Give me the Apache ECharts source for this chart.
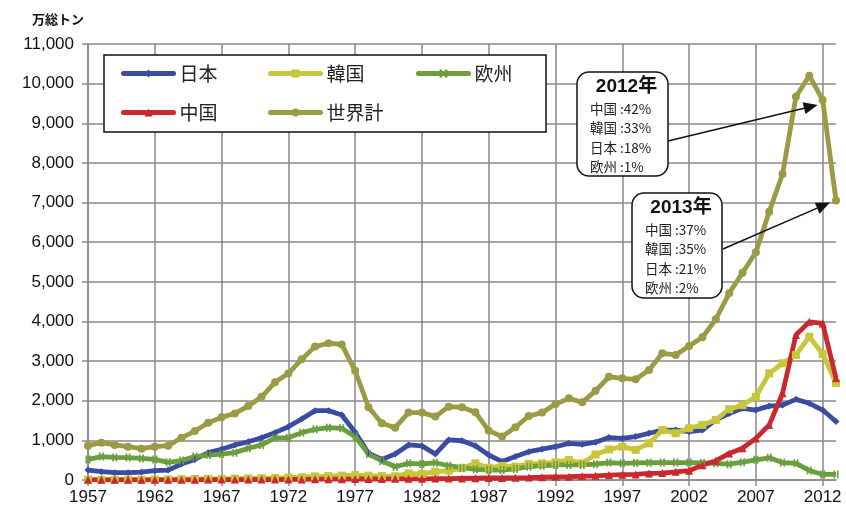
<!DOCTYPE html>
<html>
<head>
<meta charset="utf-8">
<script src="https://cdn.jsdelivr.net/npm/echarts@6/dist/echarts.min.js"></script>
<style>
  html, body { margin: 0; padding: 0; background: #fff; }
  #chart { width: 846px; height: 510px; }
</style>
</head>
<body>
<div id="chart"></div>
<script>
// 造船竣工量の推移（万総トン）
const years = [];
for (let y = 1957; y <= 2013; y++) years.push(String(y));

const japan = [250,210,185,185,200,235,250,405,520,690,775,885,965,1065,1195,1345,1540,1750,1750,1640,
  1205,675,520,655,885,860,655,1010,990,865,630,465,590,715,780,840,925,900,955,1070,
  1050,1095,1180,1260,1260,1220,1260,1515,1680,1810,1765,1865,1890,2035,1935,1765,1475];

const korea = [10,10,10,10,10,10,15,20,25,30,30,35,40,45,50,60,70,90,100,110,
  125,110,100,95,165,150,210,235,295,420,310,355,335,405,420,445,505,420,645,770,
  840,760,925,1260,1180,1305,1390,1515,1785,1890,2100,2690,2945,3155,3615,3180,2450];

const europe = [520,590,570,565,545,520,445,490,590,630,655,690,800,885,1065,1065,1195,1280,1320,1305,
  1095,655,480,335,420,405,435,360,310,270,250,250,280,335,360,380,380,380,400,440,
  420,430,435,440,440,440,430,420,400,450,510,560,440,420,240,140,140];

const china = [5,5,5,5,5,5,5,5,5,10,10,10,10,10,10,15,15,20,20,20,
  25,25,25,30,30,30,35,35,40,45,50,50,55,60,70,80,85,95,105,125,
  135,140,165,175,205,235,375,485,670,800,1050,1390,2190,3660,3990,3950,2570];

const world = [865,940,885,840,790,840,865,1065,1235,1445,1580,1680,1865,2100,2465,2690,3045,3365,3450,3420,
  2755,1835,1430,1320,1700,1700,1600,1850,1835,1710,1245,1095,1330,1615,1700,1915,2060,1960,2250,2605,
  2565,2540,2775,3195,3155,3380,3600,4055,4710,5230,5745,6770,7720,9670,10200,9590,7050];

const yTicks = { min: 0, max: 11000, interval: 1000 };

const share2012 = ['中国 :42%', '韓国 :33%', '日本 :18%', '欧州 :1%'];
const share2013 = ['中国 :37%', '韓国 :35%', '日本 :21%', '欧州 :2%'];

const numFont = 'Liberation Sans';
const jpFont = 'Noto Sans CJK JP';

const chart = echarts.init(document.getElementById('chart'), null, { renderer: 'canvas' });

function lineSeries(name, data, color, symbol, symbolSize) {
  return {
    name, type: 'line', data,
    symbol, symbolSize,
    showSymbol: true,
    lineStyle: { color, width: 4.8 },
    itemStyle: { color },
    emphasis: { disabled: true },
    animation: false
  };
}

function legendAt(name, left, top) {
  return {
    data: [name], left, top, padding: 0,
    itemWidth: 50, itemHeight: 10, itemGap: 4,
    lineStyle: { width: 5, cap: 'round' },
    textStyle: { fontFamily: jpFont, fontSize: 19, color: '#222', padding: [0, 0, 0, 1] },
    selectedMode: false
  };
}

chart.setOption({
  animation: false,
  grid: { left: 88, right: 10, top: 44, bottom: 30 },
  legend: [
    legendAt('日本', 121, 64),
    legendAt('韓国', 268, 64),
    legendAt('欧州', 416, 64),
    legendAt('中国', 121, 103),
    legendAt('世界計', 268, 103)
  ],
  xAxis: {
    type: 'category', data: years, boundaryGap: false,
    axisLine: { lineStyle: { color: '#8a8a8a', width: 1.5 } },
    axisTick: { show: true, interval: 4, length: 6, lineStyle: { color: '#8a8a8a', width: 1.5 } },
    axisLabel: { interval: 4, margin: 9, fontFamily: numFont, fontSize: 17, color: '#111' },
    splitLine: { show: true, interval: 4, lineStyle: { color: '#8a8a8a', width: 1.5 } }
  },
  yAxis: {
    type: 'value', min: yTicks.min, max: yTicks.max, interval: yTicks.interval,
    name: '万総トン',
    nameLocation: 'end', nameGap: 18,
    nameTextStyle: { fontFamily: jpFont, fontSize: 13, fontWeight: 'bold', color: '#111', align: 'center', padding: [0, 0, 0, -60] },
    axisLine: { show: true, lineStyle: { color: '#8a8a8a', width: 1.5 } },
    axisTick: { show: true, length: 6, lineStyle: { color: '#8a8a8a', width: 1.5 } },
    axisLabel: {
      margin: 14, fontFamily: numFont, fontSize: 17, color: '#111',
      formatter: v => v.toLocaleString('en-US')
    },
    splitLine: { show: true, lineStyle: { color: '#8a8a8a', width: 1.5 } }
  },
  series: [
    lineSeries('日本', japan, '#3A4CA2', 'diamond', 7),
    lineSeries('韓国', korea, '#C8C63C', 'rect', 8),
    lineSeries('欧州', europe, '#6A9E3E', 'path://M0,0h2v10h-2zM4,0h2v10h-2z', [5, 8]),
    lineSeries('中国', china, '#C9282E', 'triangle', 8),
    lineSeries('世界計', world, '#9C9B45', 'circle', 8)
  ]
});

// Annotation boxes with arrows pointing at the world totals
function noteBox(x, y, w, h, title, lines, textLeft) {
  const children = [
    { type: 'rect', shape: { x: 0, y: 0, width: w, height: h, r: 12 },
      style: { fill: '#fff', stroke: '#111', lineWidth: 1.5 } },
    { type: 'text', x: w / 2 + 4, y: 15,
      style: { text: title, fill: '#111', font: 'bold 19px ' + numFont + ', ' + jpFont, align: 'center', verticalAlign: 'middle' } }
  ];
  lines.forEach((t, i) => {
    children.push({ type: 'text', x: textLeft, y: 37 + i * 19.2,
      style: { text: t, fill: '#222', font: '13.5px ' + jpFont, align: 'left', verticalAlign: 'middle' } });
  });
  return { type: 'group', x, y, z: 20, children };
}

function arrow(from, to) {
  const dx = to[0] - from[0], dy = to[1] - from[1];
  const len = Math.sqrt(dx * dx + dy * dy);
  const ux = dx / len, uy = dy / len;
  const headLen = 14, headW = 6;
  const bx = to[0] - ux * headLen, by = to[1] - uy * headLen;
  return [
    { type: 'line', z: 19, shape: { x1: from[0], y1: from[1], x2: bx, y2: by },
      style: { stroke: '#111', lineWidth: 1.5 } },
    { type: 'polygon', z: 19, shape: { points: [
        [to[0], to[1]],
        [bx - uy * headW, by + ux * headW],
        [bx + uy * headW, by - ux * headW]
      ] }, style: { fill: '#111' } }
  ];
}

const p2012 = chart.convertToPixel({ gridIndex: 0 }, ['2012', world[years.indexOf('2012')]]);
const p2013 = chart.convertToPixel({ gridIndex: 0 }, ['2013', world[years.indexOf('2013')]]);

chart.setOption({
  graphic: [
    { type: 'rect', z: 3, shape: { x: 104, y: 55, width: 442, height: 77 },
      style: { fill: '#fff', stroke: '#111', lineWidth: 1.5 } },
    noteBox(577, 72, 91, 104, '2012年', share2012, 13),
    noteBox(632, 193, 90, 105, '2013年', share2013, 13),
    ...arrow([668, 141], [p2012[0] - 5, p2012[1] + 5]),
    ...arrow([723, 249], [p2013[0] - 6, p2013[1] + 2])
  ]
});
</script>
</body>
</html>
